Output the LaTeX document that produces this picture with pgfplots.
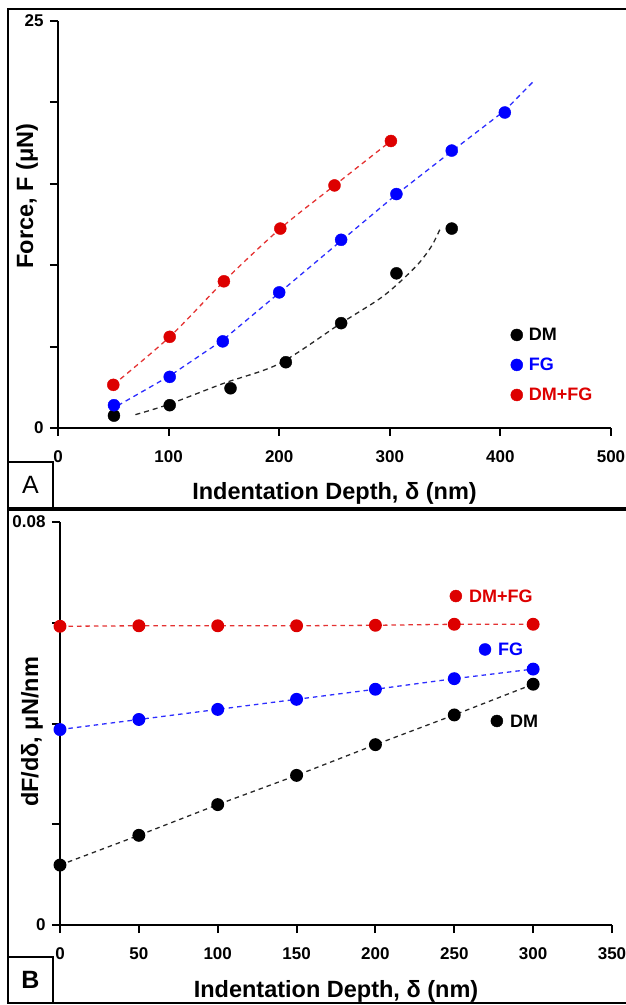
\documentclass[border=0pt]{standalone}
\usepackage{fontspec}
\setmainfont{Liberation Sans}
\usepackage{pgfplots}
\pgfplotsset{compat=1.18}
\definecolor{dred}{RGB}{221,0,0}
\definecolor{lred}{RGB}{228,50,50}
\definecolor{dblue}{RGB}{0,0,255}
\definecolor{lblue}{RGB}{45,45,255}
\definecolor{dgray}{RGB}{40,40,40}
\pgfplotsset{
  panel/.style={
    scale only axis,
    axis lines=left,
    axis line style={-, line width=2.5pt, black},
    tick align=outside,
    major tick length=8pt,
    tick style={line width=2pt, black},
    clip=false,
    scaled ticks=false,
    /pgf/number format/assume math mode=true,
    tick label style={font=\fontsize{17}{18}\selectfont\bfseries},
    xticklabel style={yshift=-11pt},
    yticklabel style={xshift=-3pt},
    label style={font=\fontsize{23.5}{26}\selectfont\bfseries},
  },
  fitline/.style={line width=1.3pt, dash pattern=on 5pt off 4pt, forget plot},
}
\begin{document}
\begin{tikzpicture}[x=1pt,y=1pt]
\useasboundingbox (0,0) rectangle (625,1005);
% panel frames
\draw[line width=2pt] (8,497) rectangle (640,996);
\draw[line width=2pt] (8,2) rectangle (640,495);
\draw[line width=1.5pt] (8,497) rectangle (53,543);
\node[font=\fontsize{25}{28}\selectfont] at (30.5,520) {A};
\draw[line width=1.5pt] (8,2) rectangle (53,48);
\node[font=\fontsize{25}{28}\selectfont\bfseries] at (30.5,25) {B};

% ---------------- Panel A ----------------
\begin{axis}[panel,
  at={(58pt,577pt)}, anchor=south west,
  width=553pt, height=407pt,
  xmin=0, xmax=500, ymin=0, ymax=25,
  xtick={0,100,200,300,400,500}, xticklabels={0,100,200,300,400,500},
  ytick={0,5,10,15,20,25}, yticklabels={0,,,,,25},
  xlabel={Indentation Depth, δ (nm)},
  ylabel={Force, F (μN)},
  xlabel style={at={(axis description cs:0.5,-0.1745)}, anchor=base},
  ylabel style={at={(axis description cs:-0.056,0.57)}, anchor=center},
  legend style={draw=none, fill=none, at={(axis cs:406.5,6.4)}, anchor=north west,
    font=\fontsize{18}{19}\selectfont\bfseries, row sep=12pt, column sep=4pt},
  legend cell align=left,
]
\addplot[fitline, dgray, smooth] coordinates {
  (70,0.82) (100,1.45) (150,2.75) (200,3.95) (256,6.44) (290,7.9) (308,8.9) (326,10.1) (338,11.2) (346,12.3)};
\addplot[fitline, lblue] coordinates {
  (47,1.1) (101,3.2) (149,5.4) (200,8.3) (256,11.5) (306,14.35) (356,17.0) (404,19.5) (430,21.3)};
\addplot[fitline, lred, smooth] coordinates {
  (50,2.65) (101,5.60) (150,9.01) (201,12.25) (250,14.90) (301,17.63)};
\addplot[only marks, mark=*, mark size=6pt, black] coordinates {
  (50.6,0.76) (101,1.40) (156,2.44) (206,4.04) (256,6.44) (306,9.50) (356,12.25)};
\addlegendentry{\textcolor{black}{DM}}
\addplot[only marks, mark=*, mark size=6pt, dblue] coordinates {
  (50.6,1.40) (101,3.14) (149,5.32) (200,8.33) (256,11.56) (306,14.37) (356,17.04) (404,19.38)};
\addlegendentry{\textcolor{dblue}{FG}}
\addplot[only marks, mark=*, mark size=6pt, dred] coordinates {
  (50,2.65) (101,5.60) (150,9.01) (201,12.25) (250,14.90) (301,17.63)};
\addlegendentry{\textcolor{dred}{DM+FG}}
\end{axis}

% ---------------- Panel B ----------------
\begin{axis}[panel,
  at={(60pt,80pt)}, anchor=south west,
  width=552pt, height=403pt,
  xmin=0, xmax=350, ymin=0, ymax=0.08,
  xtick={0,50,100,150,200,250,300,350}, xticklabels={0,50,100,150,200,250,300,350},
  ytick={0,0.02,0.04,0.06,0.08}, yticklabels={0,,,,0.08},
  xlabel={Indentation Depth, δ (nm)},
  ylabel={dF/dδ, μN/nm},
  xlabel style={at={(axis description cs:0.5,-0.1787)}, anchor=base},
  ylabel style={at={(axis description cs:-0.0507,0.479)}, anchor=center},
]
\addplot[lred, line width=1.3pt, dash pattern=on 4.5pt off 4pt, mark=*, mark size=5.8pt,
  mark options={solid, fill=dred, draw=dred}] coordinates {
  (0,0.0593) (50,0.0594) (100,0.0594) (150,0.0594) (200,0.0595) (250,0.0597) (300,0.0597)};
\addplot[lblue, line width=1.3pt, dash pattern=on 4.5pt off 4pt, mark=*, mark size=5.8pt,
  mark options={solid, fill=dblue, draw=dblue}] coordinates {
  (0,0.0388) (50,0.0408) (100,0.0428) (150,0.0448) (200,0.0468) (250,0.0489) (300,0.0508)};
\addplot[dgray, line width=1.3pt, dash pattern=on 4.5pt off 4pt, mark=*, mark size=5.8pt,
  mark options={solid, fill=black, draw=black}] coordinates {
  (0,0.0119) (50,0.0178) (100,0.0239) (150,0.0297) (200,0.0358) (250,0.0417) (300,0.0478)};
% inline labels
\addplot[only marks, mark=*, mark size=6pt, dred] coordinates {(251,0.0653)}
  node[anchor=west, inner sep=0pt, xshift=13pt, font=\fontsize{18}{20}\selectfont\bfseries, text=dred] {DM+FG};
\addplot[only marks, mark=*, mark size=6pt, dblue] coordinates {(269.5,0.0547)}
  node[anchor=west, inner sep=0pt, xshift=13pt, font=\fontsize{18}{20}\selectfont\bfseries, text=dblue] {FG};
\addplot[only marks, mark=*, mark size=6pt, black] coordinates {(277,0.0405)}
  node[anchor=west, inner sep=0pt, xshift=13pt, font=\fontsize{18}{20}\selectfont\bfseries, text=black] {DM};
\end{axis}
\end{tikzpicture}
\end{document}
